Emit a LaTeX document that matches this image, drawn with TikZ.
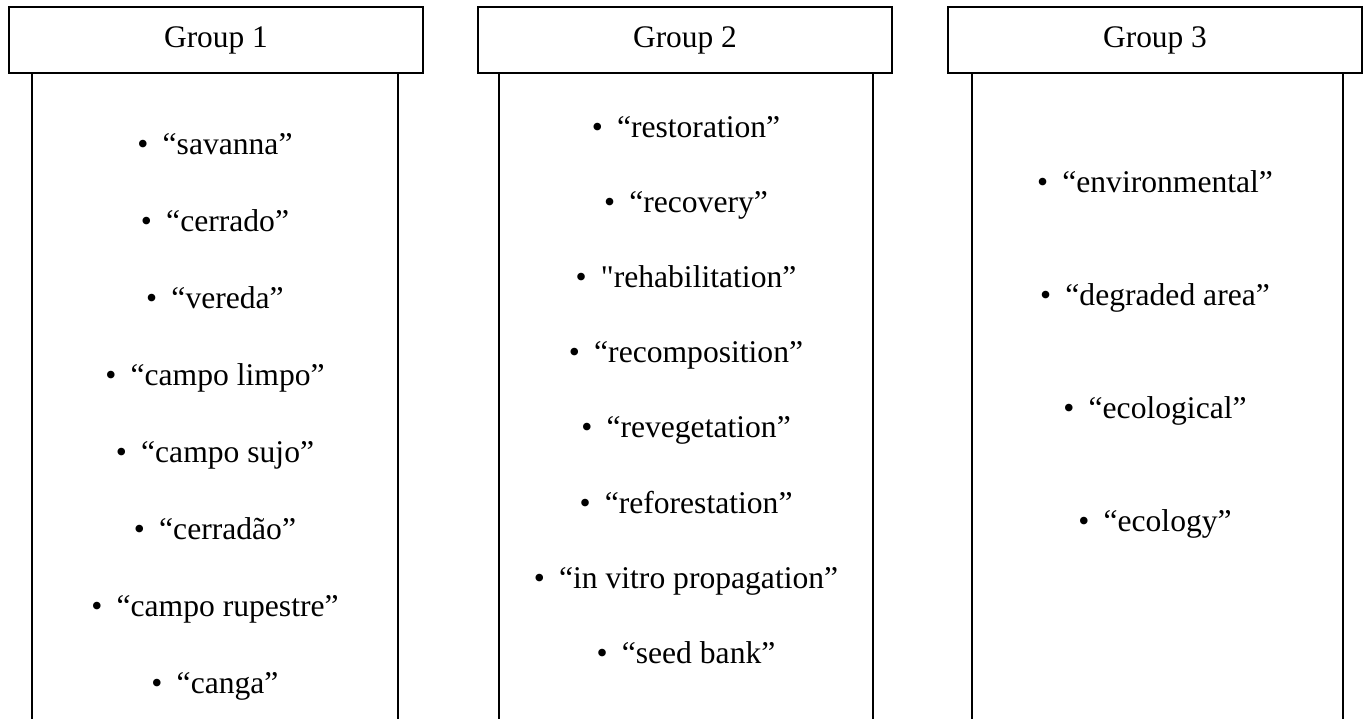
\documentclass[tikz,border=0pt]{standalone}
\usepackage{fontspec}
\setmainfont{Liberation Serif}
\newfontfamily\plainq{Liberation Serif}
\usetikzlibrary{positioning}
\newcommand{\bul}{\textbullet\hspace{0.45em}}

\begin{document}
\begin{tikzpicture}[node distance = 38.5pt, on grid]
            \tikzset{head box/.style = {draw, line width=1.1pt, minimum width=207pt, minimum height=33pt, inner sep=0pt, text height=0.85em, text depth=0.15em, font=\fontsize{15.7}{19}\selectfont}}
            \tikzset{term/.style = {inner sep=0pt, text height=0.7em, text depth=0.25em, font=\fontsize{15.8}{19}\selectfont}}
            \tikzset{side line/.style = {-, line width=1.1pt}}
            \useasboundingbox (0,0) rectangle (681.5pt,-359.5pt);
            \coordinate (bot) at (0,-359.5pt);
            % headers
            \node[head box] (hd1) at (108pt,-20pt) {Group 1};
            \node[head box] (hd2) at (342.5pt,-20pt) {Group 2};
            \node[head box] (hd3) at (577.5pt,-20pt) {Group 3};
            % open sides under the headers
            \draw[side line] ([xshift=12pt]hd1.south west) -- ([xshift=12pt]hd1.south west |- bot);
            \draw[side line] ([xshift=-13pt]hd1.south east) -- ([xshift=-13pt]hd1.south east |- bot);
            \draw[side line] ([xshift=11pt]hd2.south west) -- ([xshift=11pt]hd2.south west |- bot);
            \draw[side line] ([xshift=-10pt]hd2.south east) -- ([xshift=-10pt]hd2.south east |- bot);
            \draw[side line] ([xshift=12.5pt]hd3.south west) -- ([xshift=12.5pt]hd3.south west |- bot);
            \draw[side line] ([xshift=-10pt]hd3.south east) -- ([xshift=-10pt]hd3.south east |- bot);
            % group 1
            \node[term] (a1) at (107.5pt,-74.75pt) {\bul“savanna”};
            \node[term] (a2) [below=38.55pt of a1] {\bul“cerrado”};
            \node[term] (a3) [below=38.55pt of a2] {\bul“vereda”};
            \node[term] (a4) [below=38.55pt of a3] {\bul“campo limpo”};
            \node[term] (a5) [below=38.55pt of a4] {\bul“campo sujo”};
            \node[term] (a6) [below=38.55pt of a5] {\bul“cerradão”};
            \node[term] (a7) [below=38.55pt of a6] {\bul“campo rupestre”};
            \node[term] (a8) [below=38.55pt of a7] {\bul“canga”};
            % group 2
            \node[term] (b1) at (343pt,-66.5pt) {\bul“restoration”};
            \node[term] (b2) [below=37.55pt of b1] {\bul“recovery”};
            \node[term] (b3) [below=37.55pt of b2] {\bul{\plainq"}rehabilitation”};
            \node[term] (b4) [below=37.55pt of b3] {\bul“recomposition”};
            \node[term] (b5) [below=37.55pt of b4] {\bul“revegetation”};
            \node[term] (b6) [below=37.55pt of b5] {\bul“reforestation”};
            \node[term] (b7) [below=37.55pt of b6] {\bul“in vitro propagation”};
            \node[term] (b8) [below=37.55pt of b7] {\bul“seed bank”};
            % group 3
            \node[term] (c1) at (577.5pt,-94pt) {\bul“environmental”};
            \node[term] (c2) [below=56.5pt of c1] {\bul“degraded area”};
            \node[term] (c3) [below=56.5pt of c2] {\bul“ecological”};
            \node[term] (c4) [below=56.5pt of c3] {\bul“ecology”};
        \end{tikzpicture}
\end{document}
